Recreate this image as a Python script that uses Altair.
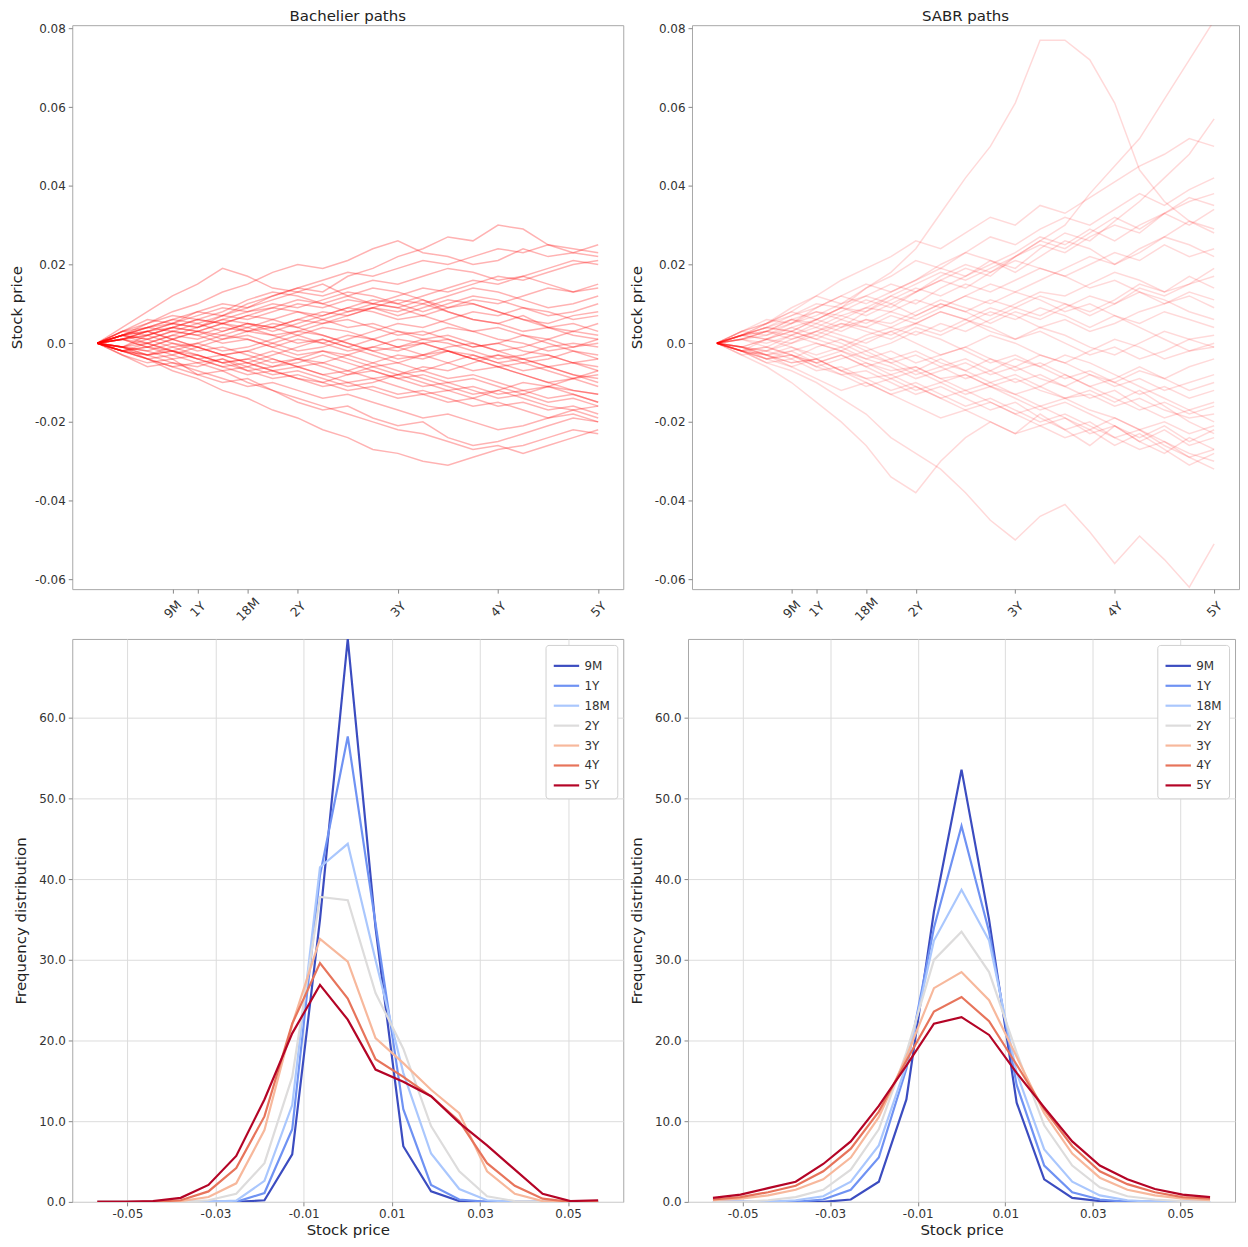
import altair as alt
import pandas as pd

# ---------------- data ----------------
TIMES = [0.0, 0.25, 0.5, 0.75, 1.0, 1.25, 1.5, 1.75, 2.0, 2.25, 2.5,
         2.75, 3.0, 3.25, 3.5, 3.75, 4.0, 4.25, 4.5, 4.75, 5.0]

# simulated paths (values in thousandths)
BACH_PATHS = [
    [0, 4, 8, 12, 15, 19, 17, 14, 13, 15, 12, 10, 9, 11, 8, 6, 5, 7, 4, 3, 5],
    [0, 2, 3, 5, 4, 7, 9, 12, 14, 13, 17, 19, 22, 24, 27, 26, 30, 29, 25, 23, 22],
    [0, 3, 5, 8, 10, 13, 15, 18, 20, 19, 21, 24, 26, 23, 22, 20, 21, 24, 22, 23, 25],
    [0, -2, -4, -7, -9, -12, -14, -17, -19, -22, -24, -27, -28, -30, -31, -29, -27, -26, -24, -22, -23],
    [0, -3, -5, -4, -8, -10, -9, -12, -15, -17, -16, -19, -21, -20, -24, -26, -25, -23, -21, -19, -20],
    [0, 1, -1, -2, 0, 2, 1, -1, -3, -2, -4, -6, -5, -3, -1, 0, -2, -4, -3, -5, -6],
    [0, 2, 4, 3, 5, 7, 6, 8, 10, 9, 11, 10, 12, 14, 13, 15, 17, 16, 18, 20, 21],
    [0, -1, -3, -2, -4, -3, -5, -7, -6, -8, -10, -9, -11, -13, -12, -14, -16, -15, -17, -16, -18],
    [0, 3, 2, 4, 6, 5, 7, 9, 8, 6, 4, 5, 3, 1, 2, 0, -2, -1, 1, 3, 2],
    [0, -2, 0, 2, 1, 3, 5, 4, 6, 8, 7, 9, 11, 10, 12, 14, 13, 11, 9, 10, 12],
    [0, 1, 3, 1, -1, -3, -2, -4, -6, -5, -7, -9, -8, -10, -12, -11, -13, -12, -14, -13, -15],
    [0, -3, -6, -5, -7, -9, -11, -10, -12, -14, -13, -15, -17, -19, -18, -20, -22, -21, -19, -17, -16],
    [0, 2, 1, -1, 0, -2, -1, 1, 3, 2, 0, -2, -1, 1, 0, -2, -4, -3, -1, 0, -1],
    [0, 3, 6, 5, 8, 10, 9, 11, 13, 12, 14, 16, 15, 17, 19, 18, 16, 17, 15, 13, 14],
    [0, -2, -1, -3, -5, -4, -6, -8, -7, -9, -11, -10, -8, -6, -7, -5, -3, -4, -6, -8, -9],
    [0, 1, 2, 4, 3, 1, 2, 0, -2, -1, 1, 3, 5, 4, 6, 8, 7, 9, 8, 6, 7],
    [0, -1, -2, 0, -1, 1, 3, 2, 0, 1, -1, 1, 3, 2, 4, 3, 1, 0, -2, -1, 0],
    [0, 2, 5, 7, 6, 8, 11, 13, 12, 10, 12, 14, 13, 11, 9, 10, 8, 6, 5, 7, 8],
    [0, -1, -4, -6, -8, -7, -10, -12, -14, -16, -18, -20, -22, -23, -25, -27, -26, -28, -26, -24, -22],
    [0, -2, -3, -1, -3, -5, -4, -2, -4, -6, -8, -7, -9, -11, -10, -12, -14, -13, -11, -12, -13],
    [0, 1, 0, 2, 4, 6, 5, 3, 5, 7, 9, 8, 6, 7, 5, 3, 4, 2, 0, -2, -3],
    [0, -1, 1, 3, 2, 4, 3, 5, 4, 2, 0, -2, -4, -3, -5, -7, -6, -8, -10, -9, -11],
    [0, 2, 4, 6, 8, 7, 10, 12, 14, 16, 18, 17, 19, 21, 20, 22, 24, 23, 25, 24, 23],
    [0, -2, -4, -3, -1, -3, -5, -3, -1, 1, -1, -3, -5, -7, -9, -8, -10, -12, -11, -13, -15],
    [0, -1, -3, -5, -6, -4, -7, -9, -8, -10, -12, -11, -13, -12, -14, -16, -15, -17, -19, -18, -20],
    [0, 2, 3, 1, 3, 5, 7, 6, 4, 6, 8, 10, 9, 7, 9, 11, 10, 12, 14, 13, 15],
    [0, -2, -1, 1, -1, -3, -2, 0, 2, 4, 3, 1, -1, 0, -2, -4, -3, -5, -4, -2, -4],
    [0, 1, 3, 5, 7, 9, 8, 10, 9, 11, 13, 12, 10, 8, 10, 12, 11, 9, 7, 8, 10],
    [0, -1, 0, -2, -4, -6, -8, -7, -9, -11, -10, -12, -14, -13, -15, -14, -12, -10, -11, -9, -7],
    [0, 3, 4, 6, 5, 3, 5, 4, 2, 0, 2, 1, -1, -3, -2, -4, -6, -5, -7, -9, -8],
    [0, -2, -4, -6, -5, -7, -6, -4, -6, -8, -7, -5, -3, -4, -2, -4, -6, -8, -10, -12, -13],
    [0, 1, -1, 1, 3, 2, 4, 6, 8, 7, 9, 11, 10, 12, 14, 16, 15, 17, 19, 21, 20],
    [0, 2, 0, -2, -3, -5, -4, -6, -5, -3, -5, -7, -9, -8, -10, -9, -11, -13, -15, -14, -16],
    [0, -1, 2, 4, 3, 5, 4, 2, 3, 5, 6, 4, 2, 3, 1, -1, 0, 2, 1, -1, 1],
    [0, 1, 2, 0, -2, -1, -3, -5, -4, -2, -3, -5, -7, -9, -11, -13, -12, -14, -16, -17, -19],
    [0, 2, 4, 5, 4, 6, 8, 9, 11, 10, 8, 9, 7, 9, 11, 10, 8, 6, 4, 5, 3],
    [0, -2, -3, -2, -4, -6, -5, -7, -9, -10, -8, -6, -8, -7, -5, -3, -5, -7, -6, -8, -10],
    [0, 1, 3, 4, 6, 5, 3, 4, 6, 5, 7, 9, 8, 10, 8, 6, 5, 3, 4, 2, 1],
    [0, -1, -2, -4, -3, -5, -7, -6, -4, -5, -3, -1, -2, 0, 1, -1, 0, -2, -3, -5, -4],
    [0, 2, 1, 3, 2, 0, 1, -1, 1, 0, -2, -1, 1, 0, -2, -3, -5, -4, -6, -5, -7],
]

SABR_PATHS = [
    [0, 3, 5, 7, 10, 9, 14, 18, 24, 33, 42, 50, 61, 77, 77, 72, 61, 44, 36, 31, 28],
    [0, 2, 4, 6, 5, 8, 11, 9, 13, 16, 19, 17, 22, 26, 30, 38, 45, 52, 62, 72, 82],
    [0, -2, 1, 3, 6, 4, 8, 12, 10, 14, 17, 21, 19, 24, 28, 26, 31, 36, 42, 48, 57],
    [0, 2, 5, 8, 6, 9, 12, 15, 13, 17, 20, 18, 22, 25, 23, 27, 30, 28, 33, 36, 38],
    [0, -2, -5, -7, -10, -14, -18, -24, -28, -32, -38, -45, -50, -44, -41, -48, -56, -49, -55, -62, -51],
    [0, -3, -6, -10, -15, -20, -26, -34, -38, -30, -24, -20, -23, -18, -22, -26, -21, -25, -28, -24, -27],
    [0, 3, 5, 8, 12, 10, 14, 17, 21, 19, 23, 21, 18, 22, 26, 24, 20, 23, 27, 31, 29],
    [0, -2, -4, -3, -6, -8, -7, -10, -13, -11, -14, -17, -15, -19, -22, -20, -24, -27, -25, -29, -32],
    [0, 1, 3, 2, 4, 7, 9, 8, 6, 9, 12, 10, 13, 11, 8, 10, 7, 5, 8, 6, 4],
    [0, -1, -3, -5, -4, -2, -5, -7, -6, -9, -8, -11, -9, -12, -14, -13, -16, -14, -17, -19, -18],
    [0, 2, 1, 4, 6, 9, 7, 10, 13, 16, 14, 18, 21, 19, 17, 20, 23, 21, 25, 22, 24],
    [0, -3, -2, -4, -1, 1, -2, 0, 3, 1, -2, -5, -3, -6, -9, -7, -10, -13, -11, -14, -12],
    [0, 2, 4, 3, 1, 4, 6, 5, 8, 11, 9, 7, 10, 13, 12, 15, 18, 16, 13, 15, 17],
    [0, -2, -5, -4, -7, -6, -9, -12, -10, -13, -16, -14, -17, -20, -18, -21, -24, -22, -26, -29, -27],
    [0, 1, -1, 2, 0, -2, 1, 3, 0, -3, -1, 2, 0, -3, -5, -2, 1, -1, -4, -2, -1],
    [0, 3, 6, 5, 9, 12, 15, 13, 16, 20, 23, 27, 25, 29, 32, 30, 34, 38, 35, 39, 42],
    [0, -1, 1, 0, 3, 5, 4, 2, 5, 8, 6, 3, 1, 4, 2, -1, -3, 0, 3, 1, 2],
    [0, -2, -1, -3, -5, -3, -6, -4, -7, -10, -8, -11, -13, -16, -14, -17, -19, -22, -20, -23, -21],
    [0, 2, 3, 6, 8, 7, 5, 8, 11, 9, 12, 15, 13, 16, 19, 22, 20, 24, 27, 25, 22],
    [0, -1, -3, -2, 0, -2, -4, -6, -9, -7, -5, -8, -6, -3, -5, -8, -11, -9, -12, -10, -8],
    [0, 1, 3, 6, 4, 2, 0, 3, 5, 8, 6, 9, 7, 4, 6, 3, 5, 8, 10, 13, 11],
    [0, -2, -4, -6, -9, -12, -10, -13, -16, -19, -17, -20, -23, -21, -24, -22, -19, -22, -25, -28, -30],
    [0, 2, 5, 9, 12, 16, 19, 22, 26, 24, 28, 32, 30, 35, 33, 37, 41, 45, 48, 52, 50],
    [0, -1, -2, 1, 3, 1, -1, -4, -2, -5, -7, -4, -6, -9, -11, -8, -10, -7, -9, -6, -4],
    [0, -2, -3, -5, -4, -7, -9, -8, -11, -14, -12, -15, -18, -16, -19, -23, -21, -25, -22, -26, -24],
    [0, 2, 4, 3, 6, 9, 8, 11, 14, 12, 15, 13, 16, 19, 17, 14, 16, 13, 10, 12, 9],
    [0, -1, -2, 0, 2, 0, -3, -5, -3, -6, -4, -7, -10, -8, -11, -14, -12, -16, -19, -17, -20],
    [0, 1, 3, 5, 8, 6, 9, 12, 15, 18, 16, 19, 22, 26, 24, 28, 32, 29, 33, 30, 34],
    [0, -2, -1, -3, -6, -4, -2, -5, -8, -6, -9, -7, -4, -6, -3, -5, -8, -11, -14, -17, -15],
    [0, 3, 2, 5, 7, 10, 12, 10, 7, 10, 8, 5, 8, 6, 9, 12, 10, 14, 12, 15, 19],
    [0, -1, -4, -3, -5, -8, -11, -9, -12, -10, -13, -11, -14, -17, -15, -18, -21, -24, -21, -25, -22],
    [0, 2, 1, 3, 1, -1, 2, 4, 2, 5, 3, 6, 9, 7, 10, 8, 11, 15, 13, 17, 14],
    [0, -2, -4, -2, -5, -3, -6, -9, -7, -4, -7, -10, -8, -11, -14, -12, -15, -12, -16, -20, -23],
    [0, 1, 2, 4, 2, 5, 3, 1, 4, 2, 5, 8, 6, 9, 7, 4, 7, 4, 1, -2, 0],
    [0, -1, 1, -1, -3, -1, -4, -2, -5, -3, -1, -4, -7, -5, -8, -11, -9, -6, -9, -12, -10],
    [0, 2, 4, 7, 9, 12, 10, 13, 16, 19, 17, 20, 23, 27, 25, 29, 26, 30, 33, 37, 35],
    [0, -2, -3, -1, -4, -7, -5, -8, -6, -9, -12, -10, -13, -11, -8, -11, -14, -17, -15, -18, -16],
    [0, 1, 0, 2, 5, 3, 6, 4, 7, 10, 8, 11, 9, 12, 10, 7, 10, 13, 11, 8, 6],
    [0, -1, -3, -6, -4, -7, -10, -13, -11, -14, -17, -15, -18, -21, -19, -22, -26, -23, -27, -31, -28],
    [0, 2, 3, 1, 3, 6, 4, 7, 5, 3, 6, 4, 1, 3, 0, -3, -1, -4, -2, 1, -1],
]

TENOR_TICKS = [0.75, 1, 1.5, 2, 3, 4, 5]
TENOR_LABELS = ["9M", "1Y", "18M", "2Y", "3Y", "4Y", "5Y"]

BIN_CENTERS = [-0.0568, -0.0505, -0.0442, -0.0379, -0.0316, -0.0253, -0.0189,
               -0.0126, -0.0063, 0.0, 0.0063, 0.0126, 0.0189, 0.0253, 0.0316,
               0.0379, 0.0442, 0.0505, 0.0568]

SERIES = ["9M", "1Y", "18M", "2Y", "3Y", "4Y", "5Y"]
COLORS = ["#3b4cc0", "#6f92f3", "#aac7fd", "#dddcdc", "#f7b89c", "#e7745b", "#b40426"]

BACH_9M = [0, 0, 0, 0, 0, 0, 0.2, 5.9, 35.0, 69.8, 34.0, 6.9, 1.3, 0.1, 0, 0, 0, 0, 0]
BACH_1Y = [0, 0, 0, 0, 0, 0, 1.1, 9.0, 40.5, 57.7, 34.5, 11.5, 2.1, 0.3, 0, 0, 0, 0, 0]
BACH_18M = [0, 0, 0, 0, 0, 0.15, 2.6, 12.0, 41.5, 44.4, 30.0, 16.0, 6.0, 1.6, 0.2, 0, 0, 0, 0]
BACH_2Y = [0, 0, 0, 0, 0.2, 1.0, 4.8, 15.5, 37.8, 37.4, 25.9, 19.0, 9.4, 3.8, 0.7, 0.1, 0, 0, 0]
BACH_3Y = [0, 0, 0, 0.1, 0.6, 2.3, 8.9, 22.0, 32.6, 29.8, 20.3, 17.2, 13.9, 11.0, 3.8, 1.0, 0.1, 0, 0]
BACH_4Y = [0, 0, 0, 0.2, 1.3, 4.2, 10.6, 22.1, 29.6, 25.2, 17.7, 15.5, 13.1, 10.0, 4.8, 2.0, 0.4, 0, 0]
BACH_5Y = [0, 0, 0.1, 0.5, 2.1, 5.7, 12.7, 20.9, 26.9, 22.6, 16.4, 14.9, 13.1, 9.8, 7.0, 4.0, 1.0, 0.1, 0.2]

SABR_9M = [0, 0, 0, 0, 0, 0.3, 2.5, 12.7, 36.0, 53.6, 35.0, 12.3, 2.8, 0.5, 0.1, 0, 0, 0, 0]
SABR_1Y = [0, 0, 0, 0, 0.3, 1.5, 5.5, 16.5, 34.0, 46.6, 33.5, 14.5, 4.5, 1.2, 0.3, 0, 0, 0, 0]
SABR_18M = [0, 0, 0, 0.2, 0.7, 2.5, 7.0, 17.0, 32.4, 38.7, 32.4, 16.0, 6.5, 2.5, 0.8, 0.2, 0, 0, 0]
SABR_2Y = [0, 0, 0.2, 0.6, 1.5, 4.0, 9.0, 18.5, 30.0, 33.5, 28.5, 18.5, 9.5, 4.5, 1.8, 0.7, 0.3, 0.1, 0.05]
SABR_3Y = [0.2, 0.4, 0.8, 1.5, 2.8, 5.5, 10.5, 18.0, 26.5, 28.5, 25.0, 18.0, 11.0, 6.0, 3.0, 1.5, 0.8, 0.4, 0.2]
SABR_4Y = [0.3, 0.6, 1.2, 2.0, 3.8, 6.6, 11.2, 17.5, 23.6, 25.4, 22.4, 17.0, 11.5, 6.9, 3.8, 2.2, 1.2, 0.6, 0.4]
SABR_5Y = [0.5, 0.9, 1.7, 2.5, 4.7, 7.5, 11.9, 16.9, 22.1, 22.9, 20.7, 16.0, 11.7, 7.5, 4.5, 2.8, 1.6, 0.9, 0.6]

BACH_HIST = [BACH_9M, BACH_1Y, BACH_18M, BACH_2Y, BACH_3Y, BACH_4Y, BACH_5Y]
SABR_HIST = [SABR_9M, SABR_1Y, SABR_18M, SABR_2Y, SABR_3Y, SABR_4Y, SABR_5Y]

Y_TICKS_TOP = [-0.06, -0.04, -0.02, 0.0, 0.02, 0.04, 0.06, 0.08]
X_TICKS_BOT = [-0.05, -0.03, -0.01, 0.01, 0.03, 0.05]
Y_TICKS_BOT = [0, 10, 20, 30, 40, 50, 60]

FONT = "DejaVu Sans"

# ---------------- frames ----------------
def paths_frame(paths):
    rows = []
    for pid, p in enumerate(paths):
        for t, v in zip(TIMES, p):
            rows.append({"path": pid, "t": t, "v": v / 1000.0})
    return pd.DataFrame(rows)


def hist_frame(hists):
    rows = []
    for si, (name, h) in enumerate(zip(SERIES, hists)):
        for x, y in zip(BIN_CENTERS, h):
            rows.append({"tenor": name, "order": si, "x": x, "y": y})
    return pd.DataFrame(rows)


tenor_expr = "".join(
    f"datum.value == {v} ? '{l}' : " for v, l in zip(TENOR_TICKS, TENOR_LABELS)
) + "''"
minus_fix = "replace({}, '\u2212', '-')"


def path_chart(paths, title, opacity, width):
    return (
        alt.Chart(paths_frame(paths), title=alt.Title(title))
        .mark_line(color="#ff0000", strokeWidth=1.5, opacity=opacity, clip=True)
        .encode(
            x=alt.X(
                "t:Q",
                scale=alt.Scale(domain=[-0.25, 5.25], nice=False, zero=False),
                axis=alt.Axis(
                    values=TENOR_TICKS, labelExpr=tenor_expr, labelAngle=-45,
                    labelAlign="center", labelBaseline="middle", labelPadding=16,
                    labelOverlap=False, labelFlush=False, grid=False, title=None,
                    labelFontSize=12.5,
                ),
            ),
            y=alt.Y(
                "v:Q",
                scale=alt.Scale(domain=[-0.0625, 0.0808], nice=False, zero=False),
                axis=alt.Axis(
                    values=Y_TICKS_TOP,
                    labelExpr="datum.value == 0 ? '0.0' : "
                    + minus_fix.format("format(datum.value, '.2f')"),
                    grid=False, title="Stock price", labelFlush=False,
                ),
            ),
            detail="path:N",
        )
        .properties(width=width, height=566)
    )


def hist_chart(hists, ytitle, width):
    return (
        alt.Chart(hist_frame(hists))
        .mark_line(strokeWidth=2.2, clip=True)
        .encode(
            x=alt.X(
                "x:Q",
                scale=alt.Scale(domain=[-0.0625, 0.0625], nice=False, zero=False),
                axis=alt.Axis(values=X_TICKS_BOT,
                              labelExpr=minus_fix.format("format(datum.value, '.2f')"),
                              grid=True, title="Stock price", labelFlush=False,
                              labelPadding=3, titlePadding=3),
            ),
            y=alt.Y(
                "y:Q",
                scale=alt.Scale(domain=[0, 69.8], nice=False),
                axis=alt.Axis(values=Y_TICKS_BOT, format=".1f", grid=True,
                              title=ytitle, labelFlush=False),
            ),
            color=alt.Color(
                "tenor:N",
                sort=SERIES,
                scale=alt.Scale(domain=SERIES, range=COLORS),
                legend=alt.Legend(
                    title=None, orient="top-right", offset=6,
                    symbolType="stroke", symbolStrokeWidth=2.2, symbolSize=650,
                    labelFontSize=12, labelColor="#333333", labelFont=FONT,
                    padding=7, rowPadding=0, strokeColor="#d0d0d0",
                    fillColor="white", cornerRadius=3,
                ),
            ),
            order=alt.Order("order:Q"),
        )
        .properties(width=width, height=565)
    )


top = alt.hconcat(
    path_chart(BACH_PATHS, "Bachelier paths", 0.3, 553),
    path_chart(SABR_PATHS, "SABR paths", 0.15, 549),
    spacing=4,
)
bottom = alt.hconcat(
    hist_chart(BACH_HIST, "Frequency distribution", 553),
    hist_chart(SABR_HIST, "Frequency distribution", 549),
    spacing=4,
).resolve_scale(color="independent")

chart = (
    alt.vconcat(top, bottom, spacing=14)
    .properties(padding={"left": 0.5, "top": -2, "right": 0, "bottom": 0})
    .configure_view(stroke="#a8a8a8", strokeWidth=1)
    .configure_axis(
        labelFont=FONT, labelFontSize=12, labelColor="#333333",
        titleFont=FONT, titleFontSize=15, titleFontWeight="normal", titleColor="#222222",
        tickColor="#888888", tickSize=4, labelPadding=3, domain=False,
        gridColor="#dcdcdc", gridWidth=1, titlePadding=10,
    )
    .configure_title(font=FONT, fontSize=15, fontWeight="normal", color="#222222", offset=-1.5)
)

chart.save("out.html", embed_options={"renderer": "svg", "actions": False})
